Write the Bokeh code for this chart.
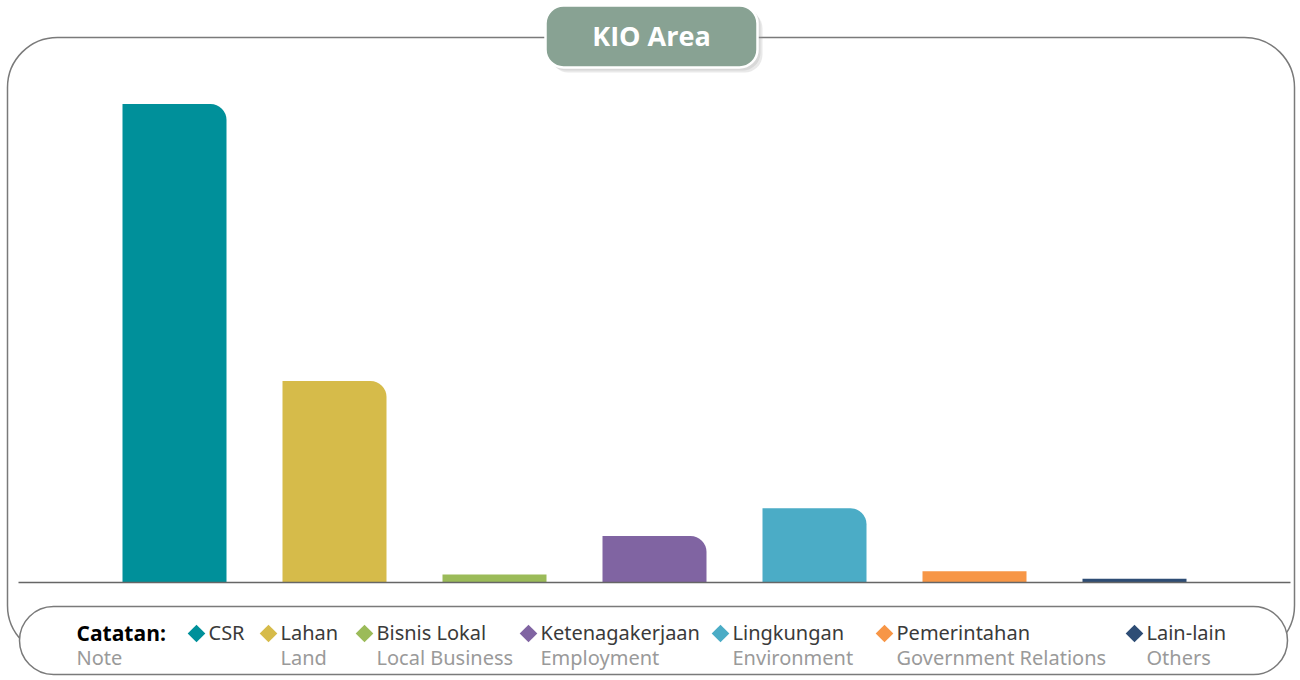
import math
from bokeh.plotting import figure
from bokeh.models import Range1d
from bokeh.core.properties import value
from bokeh.embed import file_html
from bokeh.resources import INLINE

# ---- data ----
categories = ["CSR", "Lahan", "Bisnis Lokal", "Ketenagakerjaan", "Lingkungan", "Pemerintahan", "Lain-lain"]
subtitles = ["", "Land", "Local Business", "Employment", "Environment", "Government Relations", "Others"]
values = [58.3, 24.5, 0.9, 5.6, 9.0, 1.3, 0.4]
colors = ["#00909a", "#d6bb4a", "#9bbb59", "#8064a2", "#4bacc6", "#f79646", "#2e4d75"]

W, H = 1296, 676
k = 8.2
y0 = -(H - 581.5) / k
p = figure(width=W, height=H, output_backend="svg", toolbar_location=None,
           x_range=Range1d(-174 / 160, -174 / 160 + W / 160),
           y_range=Range1d(y0, y0 + H / k), min_border=0)
p.axis.visible = False
p.grid.visible = False
p.outline_line_color = None
p.background_fill_color = "white"
p.extra_x_ranges = {"px": Range1d(0, W)}
p.extra_y_ranges = {"px": Range1d(H, 0)}
PX = dict(x_range_name="px", y_range_name="px")

# outer frame
p.quad(left=7, right=1294, top=37, bottom=655, fill_alpha=0, line_color="#7a7a7a",
       line_width=1.5, border_radius=50, **PX)

# bars
idx = list(range(len(categories)))
big = [i for i in idx if values[i] > 3]
small = [i for i in idx if values[i] <= 3]
p.vbar(x=big, top=[values[i] for i in big], bottom=0, width=0.65,
       fill_color=[colors[i] for i in big], line_color=None, border_radius=(0, 16, 0, 0))
p.vbar(x=small, top=[values[i] for i in small], bottom=0, width=0.65,
       fill_color=[colors[i] for i in small], line_color=None)

# baseline
p.segment(x0=[18], y0=[582], x1=[1290], y1=[582], line_color="#666666", line_width=1.5, **PX)

# title box with shadow
p.quad(left=550, right=762, top=10, bottom=72, fill_color="#999999", fill_alpha=0.22,
       line_color=None, border_radius=18, **PX)
p.quad(left=548, right=760, top=7, bottom=70, fill_color="#999999", fill_alpha=0.22,
       line_color=None, border_radius=18, **PX)
p.quad(left=545, right=757, top=5, bottom=67, fill_color="#88a293", line_color="white",
       line_width=2.5, border_radius=18, **PX)
p.text(x=[651], y=[35], text=["KIO Area"], text_color="white", text_font=value("Open Sans"),
       text_font_style="bold", text_font_size="27px", text_align="center",
       text_baseline="middle", **PX)

# legend box
p.quad(left=19, right=1287, top=606, bottom=674, fill_color="white", line_color="#7a7a7a",
       line_width=1.5, border_radius=34, **PX)
p.text(x=[76], y=[632], text=["Catatan:"], text_color="black", text_font=value("Open Sans"),
       text_font_style="bold", text_font_size="21px", text_baseline="middle", **PX)
p.text(x=[76], y=[657], text=["Note"], text_color="#9a9a9a", text_font=value("Noto Sans"),
       text_font_size="20px", text_baseline="middle", **PX)

leg_x = [196, 268, 364, 528, 720, 884, 1134]
p.scatter(x=leg_x, y=[633] * 7, marker="square", size=12.5, angle=math.pi / 4,
          fill_color=colors, line_color=None, **PX)
p.text(x=[x + 12 for x in leg_x], y=[632] * 7, text=categories, text_color="#3a3a3a",
       text_font=value("Noto Sans"), text_font_size="20px", text_baseline="middle", **PX)
p.text(x=[x + 12 for x in leg_x], y=[657] * 7, text=subtitles, text_color="#9a9a9a",
       text_font=value("Noto Sans"), text_font_size="20px", text_baseline="middle", **PX)

open("out.html", "w").write(file_html(p, INLINE))
